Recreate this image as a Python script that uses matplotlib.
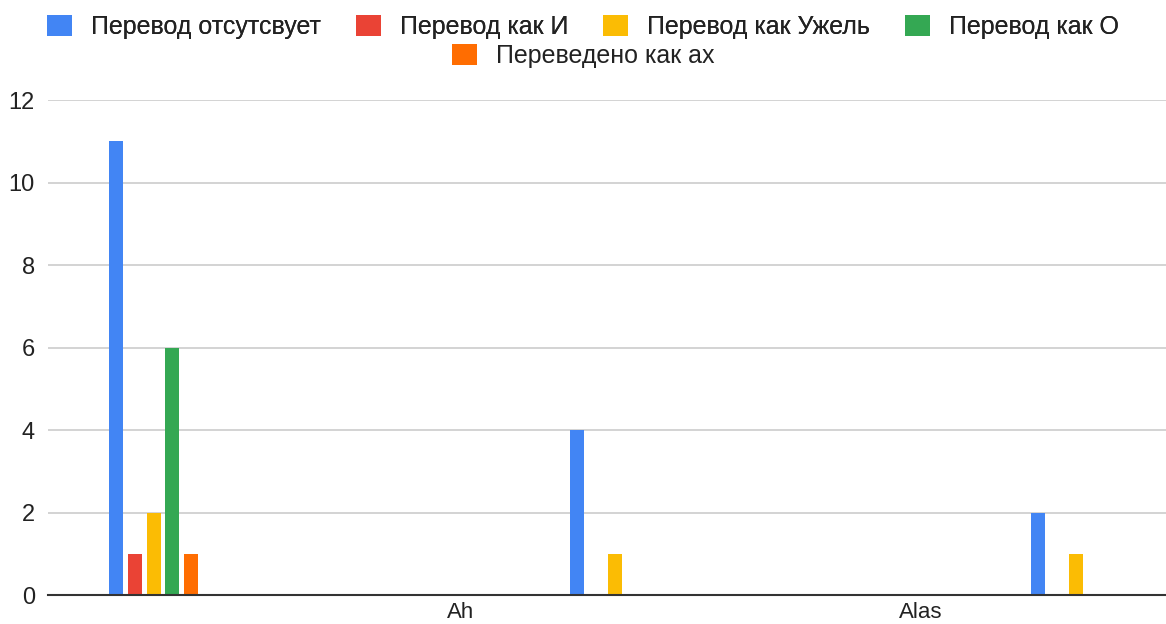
import numpy as np
import matplotlib.pyplot as plt
from matplotlib.patches import Patch

# Data
categories = ["", "Ah", "Alas"]
series = ["Перевод отсутсвует", "Перевод как И", "Перевод как Ужель",
          "Перевод как О", "Переведено как ах"]
colors = ["#4285F4", "#EA4335", "#FBBC04", "#34A853", "#FF6D01"]
values = [
    [11, 4, 2],   # Перевод отсутсвует
    [1, 0, 0],    # Перевод как И
    [2, 1, 1],    # Перевод как Ужель
    [6, 0, 0],    # Перевод как О
    [1, 0, 0],    # Переведено как ах
]

plt.rcParams['font.family'] = ['Liberation Sans', 'DejaVu Sans']

fig = plt.figure(figsize=(11.66, 6.24), dpi=100)
ax = fig.add_axes([48 / 1166, 1 - 595 / 624, 1118 / 1166, 495 / 624])

x = np.arange(len(categories))
step = 0.0405
width = 0.0304
for k, (name, vals, c) in enumerate(zip(series, values, colors)):
    ax.bar(x + (k - 2) * step, vals, width=width, color=c, label=name, zorder=3)

ax.set_ylim(0, 12)
ax.set_yticks(np.arange(0, 13, 2))
# category labels sit left of their groups in the source chart
ax.set_xticks(x - 0.335)
ax.set_xticklabels(categories)
ax.set_xlim(-0.229, 2.196)
ax.tick_params(axis='both', length=0, labelsize=17, colors='#222222')
ax.tick_params(axis='y', pad=9.5)
ax.tick_params(axis='x', pad=5, labelsize=16)
ax.grid(axis='y', color='#cccccc', lw=1.2, zorder=0)
for s in ['top', 'right', 'left']:
    ax.spines[s].set_visible(False)
ax.spines['bottom'].set_color('#333333')
ax.spines['bottom'].set_linewidth(1.5)
ax.spines['bottom'].set_zorder(4)

# legend: 4 entries on first row, 1 on second, both centred
handles = [Patch(facecolor=c, edgecolor='none') for c in colors]
leg_kw = dict(frameon=False, fontsize=18, handlelength=1.0, handleheight=0.88,
              handletextpad=0.75, columnspacing=1.4, labelcolor='#222222',
              borderaxespad=0, borderpad=0)
leg1 = fig.legend(handles[:4], series[:4], ncol=4, loc='center',
                  bbox_to_anchor=(0.5, 1 - 27 / 624), **leg_kw)
fig.add_artist(leg1)
fig.legend(handles[4:], series[4:], ncol=1, loc='center',
           bbox_to_anchor=(0.5, 1 - 56 / 624), **leg_kw)

fig.savefig('out.png', dpi=100)
